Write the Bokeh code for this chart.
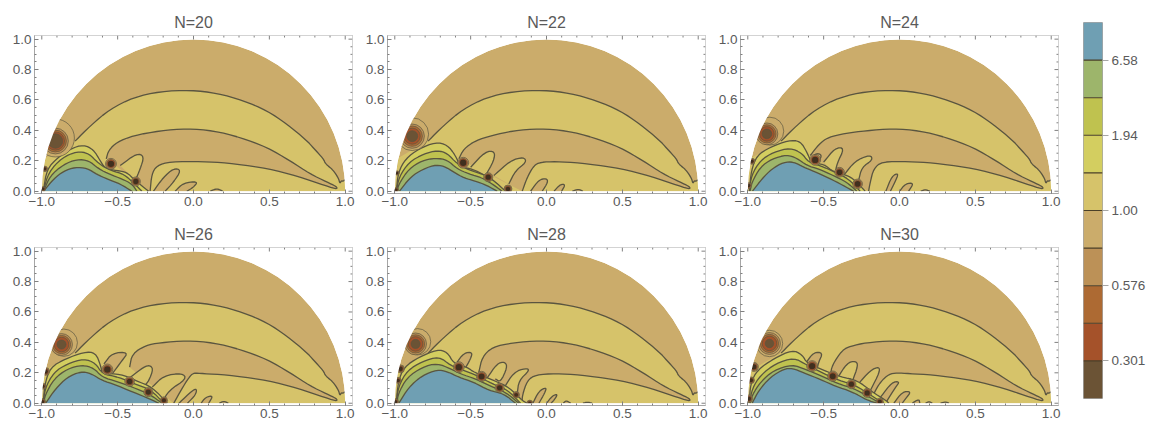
from math import pi
from bokeh.embed import file_html
from bokeh.layouts import column, row
from bokeh.models import FixedTicker, Range1d
from bokeh.plotting import figure
from bokeh.resources import INLINE

NS = [20, 22, 24, 26, 28, 30]
X_TICKS = [-1.0, -0.5, 0.0, 0.5, 1.0]
X_LABELS = ["\u22121.0", "\u22120.5", "0.0", "0.5", "1.0"]
X_MINOR = [-1.0, -0.9, -0.8, -0.7, -0.6, -0.5, -0.4, -0.3, -0.2, -0.1, 0.0, 0.1, 0.2, 0.3, 0.4, 0.5, 0.6, 0.7, 0.8, 0.9, 1.0]
Y_TICKS = [0.0, 0.2, 0.4, 0.6, 0.8, 1.0]
Y_LABELS = ["0.0", "0.2", "0.4", "0.6", "0.8", "1.0"]
Y_MINOR = [0.0, 0.05, 0.1, 0.15, 0.2, 0.25, 0.3, 0.35, 0.4, 0.45, 0.5, 0.55, 0.6, 0.65, 0.7, 0.75, 0.8, 0.85, 0.9, 0.95, 1.0]
LEGEND_COLORS = ["#6B5335", "#A5522A", "#AD6A33", "#BC9157", "#CBAC6B", "#D6C36A", "#D3CE60", "#BFC24F", "#9DB56B", "#6F9FB3"]
LEGEND_TICKS = [1, 3, 5, 7, 9]
LEGEND_LABELS = ["0.301", "0.576", "1.00", "1.94", "6.58"]

# shared long contours
C1 = [(-0.78, 0.33), (-0.68, 0.43), (-0.55, 0.54), (-0.395, 0.617), (-0.22, 0.656), (-0.02, 0.665), (0.154, 0.645),
      (0.33, 0.595), (0.484, 0.53), (0.615, 0.442), (0.747, 0.333), (0.79, 0.285), (0.857, 0.212), (0.87, 0.18),
      (0.92, 0.14), (0.956, 0.085), (0.965, 0.05), (0.975, 0.07), (0.985, 0.065), (0.998, 0.075)]
C1_CLOSE = [(1.0, 0.0), (-0.998, 0.0), (-0.995, 0.1), (-0.975, 0.22)]
C2 = [(-0.22, 0.398), (-0.044, 0.411), (0.132, 0.398), (0.308, 0.354), (0.484, 0.289), (0.637, 0.2), (0.769, 0.114),
      (0.88, 0.06), (0.945, 0.03)]
C3 = [(0.945, 0.012), (0.835, 0.048), (0.637, 0.114), (0.44, 0.158), (0.22, 0.186), (0.06, 0.195)]

# N=20
BLUE_20 = [(-0.988, 0.0), (-0.922, 0.081), (-0.856, 0.132), (-0.78, 0.158), (-0.70, 0.151), (-0.636, 0.11), (-0.57, 0.081), (-0.483, 0.048), (-0.406, 0.0)]
GREEN_20 = [(-0.988, 0.0), (-0.944, 0.103), (-0.856, 0.176), (-0.768, 0.21), (-0.69, 0.202), (-0.625, 0.147), (-0.55, 0.11), (-0.472, 0.081), (-0.406, 0.048), (-0.373, 0.0)]
YGREEN_20 = [(-0.99, 0.0), (-0.955, 0.125), (-0.867, 0.22), (-0.768, 0.262), (-0.69, 0.25), (-0.625, 0.18), (-0.537, 0.132), (-0.46, 0.114), (-0.384, 0.044), (-0.34, 0.0)]
YELLOW_20 = [(-0.99, 0.0), (-0.966, 0.147), (-0.89, 0.224), (-0.812, 0.279), (-0.724, 0.306), (-0.658, 0.272), (-0.615, 0.2), (-0.58, 0.147), (-0.505, 0.136), (-0.44, 0.125), (-0.384, 0.07), (-0.296, 0.0)]
HEAD_20 = [(-0.575, 0.213), (-0.56, 0.268), (-0.505, 0.323), (-0.395, 0.366)]
TAIL_20 = [(-0.154, 0.195), (-0.242, 0.168), (-0.275, 0.114), (-0.286, 0.0)]
YF_20 = [[(-0.483, 0.169), (-0.373, 0.25), (-0.325, 0.23), (-0.351, 0.147), (-0.384, 0.07)]]
TF_20 = [[(-0.264, 0.0), (-0.198, 0.092), (-0.132, 0.15), (-0.08, 0.14), (-0.132, 0.059), (-0.187, 0.0)],
         [(-0.121, 0.0), (-0.066, 0.055), (0.03, 0.065), (0.0, 0.026), (-0.044, 0.0)],
         [(0.11, 0.0), (0.154, 0.018), (0.193, 0.0)]]
LOBE_20 = []
POLES_20 = [(-0.544, 0.18, 0.036), (-0.38, 0.064, 0.03), (-0.98, 0.147, 0.018), (-0.99, 0.015, 0.015)]
SPOT_20 = [(-0.91, 0.35, 0.125), (-0.91, 0.33, 0.085), (-0.91, 0.33, 0.072), (-0.91, 0.33, 0.06), (-0.91, 0.33, 0.048)]

# N=22
BLUE_22 = [(-0.969, 0.0), (-0.907, 0.081), (-0.841, 0.132), (-0.742, 0.173), (-0.676, 0.166), (-0.61, 0.125), (-0.545, 0.088), (-0.446, 0.059), (-0.391, 0.037), (-0.325, 0.0)]
GREEN_22 = [(-0.985, 0.0), (-0.973, 0.048), (-0.907, 0.147), (-0.819, 0.202), (-0.731, 0.218), (-0.654, 0.206), (-0.589, 0.147), (-0.512, 0.114), (-0.424, 0.088), (-0.358, 0.048), (-0.292, 0.0)]
YGREEN_22 = [(-0.988, 0.0), (-0.973, 0.092), (-0.907, 0.191), (-0.808, 0.246), (-0.72, 0.268), (-0.654, 0.25), (-0.589, 0.18), (-0.512, 0.14), (-0.413, 0.11), (-0.347, 0.07), (-0.27, 0.0)]
YELLOW_22 = [(-0.99, 0.0), (-0.977, 0.125), (-0.929, 0.213), (-0.841, 0.279), (-0.731, 0.322), (-0.654, 0.305), (-0.6, 0.235), (-0.567, 0.158), (-0.49, 0.147), (-0.402, 0.103), (-0.336, 0.06), (-0.281, 0.0)]
HEAD_22 = [(-0.578, 0.213), (-0.545, 0.279), (-0.468, 0.333), (-0.358, 0.366)]
TAIL_22 = [(-0.04, 0.191), (-0.083, 0.169), (-0.127, 0.092), (-0.16, 0.0)]
YF_22 = [[(-0.5, 0.158), (-0.402, 0.262), (-0.34, 0.262), (-0.347, 0.2), (-0.402, 0.103)],
         [(-0.347, 0.103), (-0.237, 0.202), (-0.149, 0.225), (-0.132, 0.191), (-0.204, 0.136), (-0.248, 0.048)]]
TF_22 = [[(-0.105, 0.0), (-0.05, 0.075), (0.0, 0.085), (0.01, 0.06), (-0.028, 0.0)],
         [(0.05, 0.0), (0.09, 0.045), (0.125, 0.045), (0.1, 0.0)],
         [(0.17, 0.0), (0.21, 0.014), (0.24, 0.0)]]
LOBE_22 = []
POLES_22 = [(-0.549, 0.187, 0.036), (-0.384, 0.092, 0.03), (-0.254, 0.015, 0.026), (-0.985, 0.12, 0.014), (-0.99, 0.009, 0.015)]
SPOT_22 = [(-0.885, 0.375, 0.108), (-0.885, 0.362, 0.08), (-0.885, 0.362, 0.067), (-0.885, 0.362, 0.053), (-0.885, 0.362, 0.036)]

# N=24
BLUE_24 = [(-0.969, 0.0), (-0.907, 0.081), (-0.841, 0.147), (-0.764, 0.191), (-0.698, 0.193), (-0.632, 0.158), (-0.567, 0.132), (-0.468, 0.088), (-0.369, 0.037), (-0.303, 0.0)]
GREEN_24 = [(-0.985, 0.0), (-0.973, 0.059), (-0.918, 0.158), (-0.841, 0.213), (-0.742, 0.24), (-0.676, 0.217), (-0.61, 0.169), (-0.534, 0.147), (-0.435, 0.103), (-0.347, 0.059), (-0.281, 0.0)]
YGREEN_24 = [(-0.988, 0.0), (-0.977, 0.103), (-0.918, 0.202), (-0.83, 0.257), (-0.72, 0.285), (-0.643, 0.25), (-0.6, 0.191), (-0.523, 0.169), (-0.424, 0.125), (-0.336, 0.081), (-0.259, 0.0)]
YELLOW_24 = [(-0.99, 0.0), (-0.977, 0.136), (-0.94, 0.235), (-0.852, 0.29), (-0.731, 0.335), (-0.654, 0.33), (-0.61, 0.257), (-0.578, 0.18), (-0.5, 0.18), (-0.435, 0.125), (-0.336, 0.103), (-0.281, 0.059), (-0.226, 0.0)]
HEAD_24 = [(-0.588, 0.235), (-0.53, 0.31), (-0.47, 0.355), (-0.358, 0.38)]
TAIL_24 = [(-0.116, 0.195), (-0.171, 0.147), (-0.193, 0.059), (-0.204, 0.0)]
YF_24 = [[(-0.5, 0.191), (-0.424, 0.285), (-0.362, 0.285), (-0.413, 0.18), (-0.424, 0.114)],
         [(-0.369, 0.103), (-0.292, 0.2), (-0.193, 0.24), (-0.176, 0.206), (-0.248, 0.158), (-0.27, 0.07)]]
TF_24 = [[(-0.09, 0.0), (-0.05, 0.10), (-0.005, 0.12), (-0.03, 0.06), (-0.06, 0.0)],
         [(0.0, 0.0), (0.04, 0.05), (0.095, 0.055), (0.06, 0.0)],
         [(0.14, 0.0), (0.17, 0.012), (0.2, 0.0)]]
LOBE_24 = [[(-0.582, 0.213), (-0.551, 0.25), (-0.51, 0.24), (-0.534, 0.191)]]
POLES_24 = [(-0.556, 0.206, 0.036), (-0.395, 0.125, 0.032), (-0.276, 0.048, 0.032), (-0.973, 0.197, 0.02), (-0.995, 0.037, 0.02)]
SPOT_24 = [(-0.855, 0.395, 0.092), (-0.874, 0.377, 0.072), (-0.874, 0.377, 0.06), (-0.874, 0.377, 0.048), (-0.874, 0.377, 0.032)]

# N=26
BLUE_26 = [(-0.975, 0.0), (-0.909, 0.095), (-0.832, 0.171), (-0.744, 0.208), (-0.678, 0.197), (-0.602, 0.149), (-0.514, 0.121), (-0.426, 0.084), (-0.316, 0.04), (-0.228, 0.0)]
GREEN_26 = [(-0.985, 0.0), (-0.98, 0.05), (-0.92, 0.16), (-0.832, 0.226), (-0.733, 0.252), (-0.656, 0.23), (-0.602, 0.171), (-0.503, 0.143), (-0.404, 0.106), (-0.294, 0.062), (-0.206, 0.0)]
YGREEN_26 = [(-0.988, 0.0), (-0.98, 0.095), (-0.92, 0.204), (-0.832, 0.259), (-0.722, 0.293), (-0.645, 0.263), (-0.602, 0.193), (-0.492, 0.171), (-0.393, 0.128), (-0.283, 0.09), (-0.195, 0.0)]
YELLOW_26 = [(-0.99, 0.0), (-0.98, 0.128), (-0.942, 0.237), (-0.843, 0.292), (-0.722, 0.337), (-0.645, 0.332), (-0.612, 0.248), (-0.602, 0.193), (-0.481, 0.193), (-0.382, 0.149), (-0.272, 0.106), (-0.173, 0.0)]
HEAD_26 = [(-0.421, 0.237), (-0.404, 0.325), (-0.316, 0.38)]
TAIL_26 = [(0.0, 0.2), (-0.03, 0.17), (-0.08, 0.09), (-0.13, 0.0)]
YF_26 = [[(-0.415, 0.171), (-0.327, 0.24), (-0.283, 0.25), (-0.265, 0.215), (-0.316, 0.106), (-0.371, 0.138)],
         [(-0.272, 0.106), (-0.195, 0.182), (-0.074, 0.198), (-0.046, 0.16), (-0.162, 0.084), (-0.206, 0.007)]]
TF_26 = [[(-0.096, 0.0), (-0.008, 0.084), (0.022, 0.095), (0.014, 0.055), (-0.04, 0.0)],
         [(0.05, 0.0), (0.08, 0.04), (0.13, 0.05), (0.1, 0.0)],
         [(0.17, 0.0), (0.2, 0.014), (0.23, 0.0)]]
LOBE_26 = [[(-0.59, 0.259), (-0.536, 0.33), (-0.43, 0.336), (-0.47, 0.281), (-0.536, 0.193)]]
POLES_26 = [(-0.568, 0.222, 0.036), (-0.421, 0.143, 0.032), (-0.298, 0.073, 0.03), (-0.195, 0.018, 0.024), (-0.975, 0.209, 0.026), (-0.993, 0.112, 0.02), (-0.995, 0.01, 0.02)]
SPOT_26 = [(-0.855, 0.398, 0.09), (-0.87, 0.386, 0.072), (-0.87, 0.386, 0.06), (-0.87, 0.386, 0.048), (-0.87, 0.386, 0.03)]

# N=28
BLUE_28 = [(-0.973, 0.0), (-0.907, 0.106), (-0.819, 0.182), (-0.72, 0.221), (-0.654, 0.208), (-0.578, 0.171), (-0.479, 0.138), (-0.38, 0.084), (-0.281, 0.062), (-0.204, 0.0)]
GREEN_28 = [(-0.985, 0.0), (-0.978, 0.062), (-0.918, 0.171), (-0.819, 0.237), (-0.72, 0.263), (-0.632, 0.226), (-0.567, 0.193), (-0.468, 0.16), (-0.369, 0.112), (-0.27, 0.073), (-0.182, 0.0)]
YGREEN_28 = [(-0.988, 0.0), (-0.978, 0.106), (-0.918, 0.215), (-0.819, 0.274), (-0.709, 0.308), (-0.632, 0.248), (-0.545, 0.215), (-0.457, 0.182), (-0.358, 0.127), (-0.259, 0.09), (-0.171, 0.0)]
YELLOW_28 = [(-0.99, 0.0), (-0.978, 0.138), (-0.94, 0.237), (-0.841, 0.303), (-0.72, 0.353), (-0.654, 0.337), (-0.61, 0.259), (-0.523, 0.237), (-0.479, 0.204), (-0.347, 0.149), (-0.248, 0.106), (-0.149, 0.007), (-0.116, 0.0)]
HEAD_28 = [(-0.446, 0.204), (-0.424, 0.303), (-0.358, 0.369)]
TAIL_28 = [(-0.072, 0.187), (-0.127, 0.149), (-0.16, 0.05), (-0.16, 0.0)]
YF_28 = [[(-0.395, 0.16), (-0.325, 0.262), (-0.274, 0.272), (-0.258, 0.237), (-0.303, 0.138), (-0.337, 0.16)],
         [(-0.281, 0.099), (-0.215, 0.204), (-0.138, 0.23), (-0.11, 0.218), (-0.182, 0.149), (-0.193, 0.062)]]
TF_28 = [[(-0.09, 0.0), (-0.05, 0.08), (0.0, 0.105), (-0.01, 0.07), (-0.05, 0.0)],
         [(0.0, 0.0), (0.04, 0.05), (0.075, 0.06), (0.05, 0.02), (0.03, 0.0)],
         [(0.11, 0.0), (0.13, 0.018), (0.16, 0.0)],
         [(0.24, 0.0), (0.27, 0.008), (0.3, 0.0)]]
LOBE_28 = [[(-0.589, 0.27), (-0.545, 0.33), (-0.488, 0.336), (-0.5, 0.292), (-0.538, 0.226)]]
POLES_28 = [(-0.578, 0.237, 0.036), (-0.428, 0.176, 0.034), (-0.309, 0.101, 0.03), (-0.2, 0.055, 0.022), (-0.11, 0.0, 0.02), (-0.962, 0.226, 0.026), (-0.978, 0.15, 0.02), (-0.995, 0.01, 0.02)]
SPOT_28 = [(-0.85, 0.404, 0.087), (-0.863, 0.39, 0.072), (-0.863, 0.39, 0.06), (-0.863, 0.39, 0.048), (-0.863, 0.39, 0.03)]

# N=30
BLUE_30 = [(-0.971, 0.0), (-0.927, 0.085), (-0.85, 0.173), (-0.762, 0.225), (-0.707, 0.23), (-0.63, 0.2), (-0.521, 0.156), (-0.422, 0.112), (-0.312, 0.075), (-0.213, 0.02), (-0.147, 0.0)]
GREEN_30 = [(-0.985, 0.0), (-0.971, 0.053), (-0.916, 0.14), (-0.828, 0.217), (-0.707, 0.255), (-0.62, 0.222), (-0.51, 0.178), (-0.411, 0.13), (-0.3, 0.097), (-0.202, 0.042), (-0.125, 0.0)]
YGREEN_30 = [(-0.988, 0.0), (-0.971, 0.097), (-0.916, 0.184), (-0.817, 0.261), (-0.696, 0.3), (-0.609, 0.25), (-0.499, 0.195), (-0.4, 0.151), (-0.29, 0.118), (-0.191, 0.053), (-0.103, 0.0)]
YELLOW_30 = [(-0.99, 0.0), (-0.982, 0.13), (-0.938, 0.217), (-0.828, 0.294), (-0.707, 0.35), (-0.642, 0.32), (-0.609, 0.261), (-0.499, 0.217), (-0.389, 0.173), (-0.279, 0.151), (-0.18, 0.074), (-0.092, 0.02), (-0.07, 0.0)]
HEAD_30 = [(-0.455, 0.185), (-0.444, 0.25), (-0.378, 0.349), (-0.323, 0.375)]
TAIL_30 = [(-0.016, 0.2), (-0.07, 0.191), (-0.125, 0.141), (-0.17, 0.064), (-0.19, 0.0)]
YF_30 = [[(-0.411, 0.163), (-0.345, 0.265), (-0.29, 0.278), (-0.272, 0.25), (-0.312, 0.141)],
         [(-0.279, 0.119), (-0.191, 0.217), (-0.136, 0.24), (-0.13, 0.206), (-0.191, 0.086)]]
TF_30 = [[(-0.125, 0.04), (-0.048, 0.14), (0.002, 0.142), (-0.026, 0.106), (-0.092, 0.0)],
         [(-0.037, 0.0), (0.018, 0.075), (0.078, 0.078), (0.04, 0.029), (0.018, 0.0)],
         [(0.084, 0.0), (0.128, 0.028), (0.134, 0.0)],
         [(0.172, 0.0), (0.195, 0.012), (0.216, 0.0)],
         [(0.27, 0.0), (0.304, 0.009), (0.326, 0.0)]]
LOBE_30 = [[(-0.62, 0.261), (-0.565, 0.336), (-0.505, 0.332), (-0.532, 0.272), (-0.543, 0.228)]]
POLES_30 = [(-0.576, 0.244, 0.036), (-0.44, 0.178, 0.034), (-0.317, 0.125, 0.03), (-0.213, 0.068, 0.03), (-0.13, 0.009, 0.024), (-0.96, 0.239, 0.03), (-0.978, 0.151, 0.022), (-0.993, 0.03, 0.025)]
SPOT_30 = [(-0.857, 0.393, 0.087), (-0.857, 0.393, 0.072), (-0.857, 0.393, 0.06), (-0.857, 0.393, 0.048), (-0.857, 0.393, 0.028)]

PANELS = {
    20: (BLUE_20, GREEN_20, YGREEN_20, YELLOW_20, HEAD_20, TAIL_20, YF_20, TF_20, LOBE_20, POLES_20, SPOT_20),
    22: (BLUE_22, GREEN_22, YGREEN_22, YELLOW_22, HEAD_22, TAIL_22, YF_22, TF_22, LOBE_22, POLES_22, SPOT_22),
    24: (BLUE_24, GREEN_24, YGREEN_24, YELLOW_24, HEAD_24, TAIL_24, YF_24, TF_24, LOBE_24, POLES_24, SPOT_24),
    26: (BLUE_26, GREEN_26, YGREEN_26, YELLOW_26, HEAD_26, TAIL_26, YF_26, TF_26, LOBE_26, POLES_26, SPOT_26),
    28: (BLUE_28, GREEN_28, YGREEN_28, YELLOW_28, HEAD_28, TAIL_28, YF_28, TF_28, LOBE_28, POLES_28, SPOT_28),
    30: (BLUE_30, GREEN_30, YGREEN_30, YELLOW_30, HEAD_30, TAIL_30, YF_30, TF_30, LOBE_30, POLES_30, SPOT_30),
}

DARK, RED, ORANGE, BROWN, TAN, YTAN, YELLOW, YG, GREEN, BLUE = LEGEND_COLORS
CORE = "#40301F"
LINE = "#5A5540"
FRAME = "#A6A6A6"
TICK = "#808080"
TEXT = "#5A5A5A"
FONT = "Liberation Sans"
XMIN, XMAX, YMIN, YMAX = -1.048, 1.048, -0.015, 1.024


def rounded(pts, rounds=2):
    for _ in range(rounds):
        out = [pts[0]]
        for a, b in zip(pts[:-1], pts[1:]):
            out.append((0.75 * a[0] + 0.25 * b[0], 0.75 * a[1] + 0.25 * b[1]))
            out.append((0.25 * a[0] + 0.75 * b[0], 0.25 * a[1] + 0.75 * b[1]))
        out.append(pts[-1])
        pts = out
    return pts


def region(p, pts, color, extra=None):
    curve = rounded(pts)
    outline = curve + (extra or [])
    p.patch([a[0] for a in outline], [a[1] for a in outline], fill_color=color, line_color=None)
    p.line([a[0] for a in curve], [a[1] for a in curve], line_color=LINE, line_width=1.3, line_join="round")


def ring(p, x, y, r, color, width=0.9):
    p.circle(x=[x], y=[y], radius=[r], fill_color=color, line_color=LINE, line_width=width, line_alpha=0.75)


def style_axis(ax, ticks, labels, minor):
    ax.ticker = FixedTicker(ticks=ticks, minor_ticks=minor)
    ax.major_label_overrides = {t: s for t, s in zip(ticks, labels)}
    ax.axis_line_color = FRAME
    ax.major_tick_line_color = TICK
    ax.minor_tick_line_color = TICK
    ax.major_tick_in = 4
    ax.major_tick_out = 0
    ax.minor_tick_in = 2
    ax.minor_tick_out = 0
    ax.major_label_standoff = 3
    ax.major_label_text_font = FONT
    ax.major_label_text_font_size = "13.5px"
    ax.major_label_text_color = TEXT


def mirror_ticks(p):
    """Ticks along the top and right edges of the frame, without labels."""
    for ticks, ln in ((X_TICKS, 4), ([t for t in X_MINOR if t not in X_TICKS], 2)):
        p.segment(x0=ticks, x1=ticks, y0=[YMAX] * len(ticks), y1=[YMAX - ln / 152] * len(ticks), line_color=TICK)
    for ticks, ln in ((Y_TICKS, 4), ([t for t in Y_MINOR if t not in Y_TICKS], 2)):
        p.segment(x0=[XMAX] * len(ticks), x1=[XMAX - ln / 151.7] * len(ticks), y0=ticks, y1=ticks, line_color=TICK)


def make_panel(n, idx):
    blue, green, ygreen, yellow, head, tail, yfs, tfs, lobes, poles, spot = PANELS[n]
    col = idx % 3
    rw = idx // 3
    p = figure(frame_width=318, frame_height=158, output_backend="svg", toolbar_location=None,
               x_range=Range1d(XMIN, XMAX), y_range=Range1d(YMIN, YMAX),
               min_border_left=34 if col == 0 else 26, min_border_right=9,
               min_border_top=35 if rw == 0 else 28,
               min_border_bottom=26 if rw == 0 else 17,
               title="N=%d" % n, title_location="above", background_fill_color="white", border_fill_color=None)
    p.title.align = "center"
    p.title.text_font = FONT
    p.title.text_font_size = "16px"
    p.title.text_font_style = "normal"
    p.title.text_color = TEXT
    p.title.standoff = 9
    p.grid.visible = False
    p.outline_line_color = FRAME
    style_axis(p.xaxis[0], X_TICKS, X_LABELS, X_MINOR)
    style_axis(p.yaxis[0], Y_TICKS, Y_LABELS, Y_MINOR)

    p.wedge(x=[0], y=[0], radius=[1.0], start_angle=0, end_angle=pi, fill_color=TAN, line_color=None)
    region(p, C1, YTAN, extra=C1_CLOSE)
    region(p, head + C2 + C3 + tail, TAN)
    for f in yfs:
        region(p, f, YTAN)
    for f in tfs:
        region(p, f, TAN)
    for f in lobes:
        region(p, f, TAN)
    for pts, color in ((yellow, YELLOW), (ygreen, YG), (green, GREEN), (blue, BLUE)):
        region(p, pts, color)
    for (x, y, r), color in zip(spot, (TAN, BROWN, ORANGE, RED, DARK)):
        ring(p, x, y, r, color)
    for x, y, r in poles:
        ring(p, x, y, r, BROWN, 0.9)
        ring(p, x, y, r * 0.78, RED, 0.8)
        p.circle(x=[x], y=[y], radius=[r * 0.58], fill_color=CORE, line_color=None)
    # everything outside the half disc stays white
    p.annular_wedge(x=[0], y=[0], inner_radius=[1.0], outer_radius=[1.6], start_angle=0, end_angle=pi,
                    fill_color="white", line_color=None)
    p.quad(left=[-1.2], right=[1.2], bottom=[-0.1], top=[0.0], fill_color="white", line_color=None)
    mirror_ticks(p)
    return p


panels = [make_panel(n, i) for i, n in enumerate(NS)]

cb = figure(frame_width=19, frame_height=376, output_backend="svg", toolbar_location=None,
            x_range=Range1d(0, 1), y_range=Range1d(0, len(LEGEND_COLORS)),
            min_border_left=16, min_border_right=47, min_border_top=22, min_border_bottom=27,
            y_axis_location="right", border_fill_color=None)
cb.grid.visible = False
cb.xaxis.visible = False
cb.outline_line_color = FRAME
levels = list(range(len(LEGEND_COLORS)))
cb.quad(left=0, right=1, bottom=levels, top=[v + 1 for v in levels], fill_color=LEGEND_COLORS, line_color=None)
cb.segment(x0=0, x1=1, y0=levels[1:], y1=levels[1:], line_color="#4A3F28", line_width=1.1)
cb_ax = cb.yaxis[0]
cb_ax.ticker = FixedTicker(ticks=LEGEND_TICKS, minor_ticks=[])
cb_ax.major_label_overrides = {t: l for t, l in zip(LEGEND_TICKS, LEGEND_LABELS)}
cb_ax.axis_line_color = None
cb_ax.major_tick_line_color = FRAME
cb_ax.major_tick_out = 6
cb_ax.major_tick_in = 0
cb_ax.minor_tick_line_color = None
cb_ax.major_label_standoff = 3
cb_ax.major_label_text_font = FONT
cb_ax.major_label_text_font_size = "13.5px"
cb_ax.major_label_text_color = TEXT

layout = row(column(row(panels[0], panels[1], panels[2]), row(panels[3], panels[4], panels[5])), cb)
open("out.html", "w").write(file_html(layout, INLINE))
